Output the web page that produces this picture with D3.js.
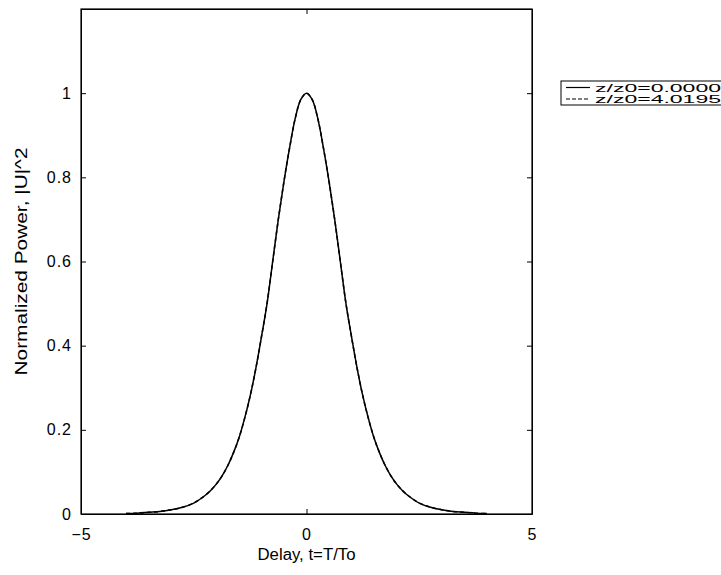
<!DOCTYPE html>
<html>
<head>
<meta charset="utf-8">
<script src="https://cdn.jsdelivr.net/npm/d3@7"></script>
<style>
  body { margin: 0; background: #fff; }
  svg text { font-family: "Liberation Sans", Arial, sans-serif; fill: #000; }
</style>
</head>
<body>
<svg width="721" height="575"></svg>
<script>
// Values.
const delay = [-4, -3.75, -3.5, -3.25, -3, -2.75, -2.5, -2.25, -2.125, -2, -1.875, -1.75, -1.625, -1.5, -1.375, -1.25, -1.125, -1, -0.875, -0.75, -0.625, -0.5, -0.375, -0.25, -0.125,
  0, 0.125, 0.25, 0.375, 0.5, 0.625, 0.75, 0.875, 1, 1.125, 1.25, 1.375, 1.5, 1.625, 1.75, 1.875, 2, 2.125, 2.25, 2.5, 2.75, 3, 3.25, 3.5, 3.75, 4];
const powerStart = [0.001, 0.002, 0.004, 0.006, 0.010, 0.016, 0.026, 0.044, 0.056, 0.071, 0.09, 0.114, 0.144, 0.18, 0.226, 0.28, 0.345, 0.42, 0.50, 0.60, 0.70, 0.79, 0.87, 0.94, 0.985,
  1.0, 0.985, 0.94, 0.87, 0.79, 0.70, 0.60, 0.50, 0.42, 0.345, 0.28, 0.226, 0.18, 0.144, 0.114, 0.09, 0.071, 0.056, 0.044, 0.026, 0.016, 0.010, 0.006, 0.004, 0.002, 0.001];
// the soliton keeps its shape, so the second curve lies on the first
const powerEnd = powerStart.slice();
const legendLabels = ["z/z0=0.0000", "z/z0=4.0195"];
const xTicks = [-5, 0, 5];
const yTicks = [0, 0.2, 0.4, 0.6, 0.8, 1];

const margin = { left: 81, right: 532, top: 9, bottom: 514 };
const svg = d3.select("svg");

const x = d3.scaleLinear().domain([-5, 5]).range([margin.left, margin.right]);
const y = d3.scaleLinear().domain([0, 1.2]).range([margin.bottom, margin.top]);

const plotW = margin.right - margin.left;
const plotH = margin.bottom - margin.top;

// Axes with inward ticks, mirrored on top and right.
svg.append("g")
    .attr("transform", `translate(0,${margin.bottom})`)
    .call(d3.axisBottom(x).tickValues(xTicks).tickSizeInner(-5).tickSizeOuter(0).tickPadding(12).tickFormat(d3.format("d")))
    .call(g => g.selectAll("text").attr("font-size", 16).attr("dy", "0.85em").attr("letter-spacing", 1));
svg.append("g")
    .attr("transform", `translate(0,${margin.top})`)
    .call(d3.axisTop(x).tickValues(xTicks).tickSizeInner(-5).tickSizeOuter(0).tickFormat(""));
svg.append("g")
    .attr("transform", `translate(${margin.left},0)`)
    .call(d3.axisLeft(y).tickValues(yTicks).tickSizeInner(-5).tickSizeOuter(0).tickPadding(9).tickFormat(d => d === 0 || d === 1 ? d3.format("d")(d) : d3.format(".1f")(d)))
    .call(g => g.selectAll("text").attr("font-size", 16).attr("letter-spacing", 1));
svg.append("g")
    .attr("transform", `translate(${margin.right},0)`)
    .call(d3.axisRight(y).tickValues(yTicks).tickSizeInner(-5).tickSizeOuter(0).tickFormat(""));

svg.selectAll(".domain").attr("stroke", "#000");
svg.selectAll(".tick line").attr("stroke", "#000");

svg.append("rect")
    .attr("x", margin.left).attr("y", margin.top)
    .attr("width", plotW).attr("height", plotH)
    .attr("fill", "none").attr("stroke", "#000").attr("stroke-width", 1.2);

// Curves.
const line = d3.line()
    .x(d => x(d[0]))
    .y(d => y(d[1]))
    .curve(d3.curveCatmullRom);

svg.append("path")
    .datum(d3.zip(delay, powerStart))
    .attr("d", line)
    .attr("fill", "none").attr("stroke", "#000").attr("stroke-width", 1.5);

svg.append("path")
    .datum(d3.zip(delay, powerEnd))
    .attr("d", line)
    .attr("fill", "none").attr("stroke", "#000").attr("stroke-width", 1.5)
    .attr("stroke-dasharray", "4,3");

// Axis labels.
svg.append("text")
    .attr("x", (margin.left + margin.right) / 2).attr("y", 560)
    .attr("text-anchor", "middle").attr("font-size", 16)
    .attr("textLength", 98).attr("lengthAdjust", "spacingAndGlyphs")
    .text("Delay, t=T/To");

svg.append("text")
    .attr("transform", `translate(27,${(margin.top + margin.bottom) / 2}) rotate(-90)`)
    .attr("text-anchor", "middle").attr("font-size", 16)
    .attr("textLength", 228).attr("lengthAdjust", "spacingAndGlyphs")
    .text("Normalized Power, |U|^2");

// Legend, clipped by the right edge like the original.
const legend = svg.append("g").attr("transform", "translate(561,81)");
legend.append("rect")
    .attr("x", 0).attr("y", 0).attr("width", 170).attr("height", 24)
    .attr("fill", "#fff").attr("stroke", "#000").attr("stroke-width", 1);
legendLabels.forEach((label, i) => {
    const ly = 6.5 + i * 11.5;
    legend.append("line")
        .attr("x1", 5).attr("x2", 29).attr("y1", ly).attr("y2", ly)
        .attr("stroke", "#000").attr("stroke-width", 1.2)
        .attr("stroke-dasharray", i === 1 ? "4,2" : null);
    legend.append("text")
        .attr("x", 34).attr("y", ly + 4)
        .attr("font-size", 10)
        .attr("textLength", 126).attr("lengthAdjust", "spacingAndGlyphs")
        .text(label);
});
</script>
</body>
</html>
